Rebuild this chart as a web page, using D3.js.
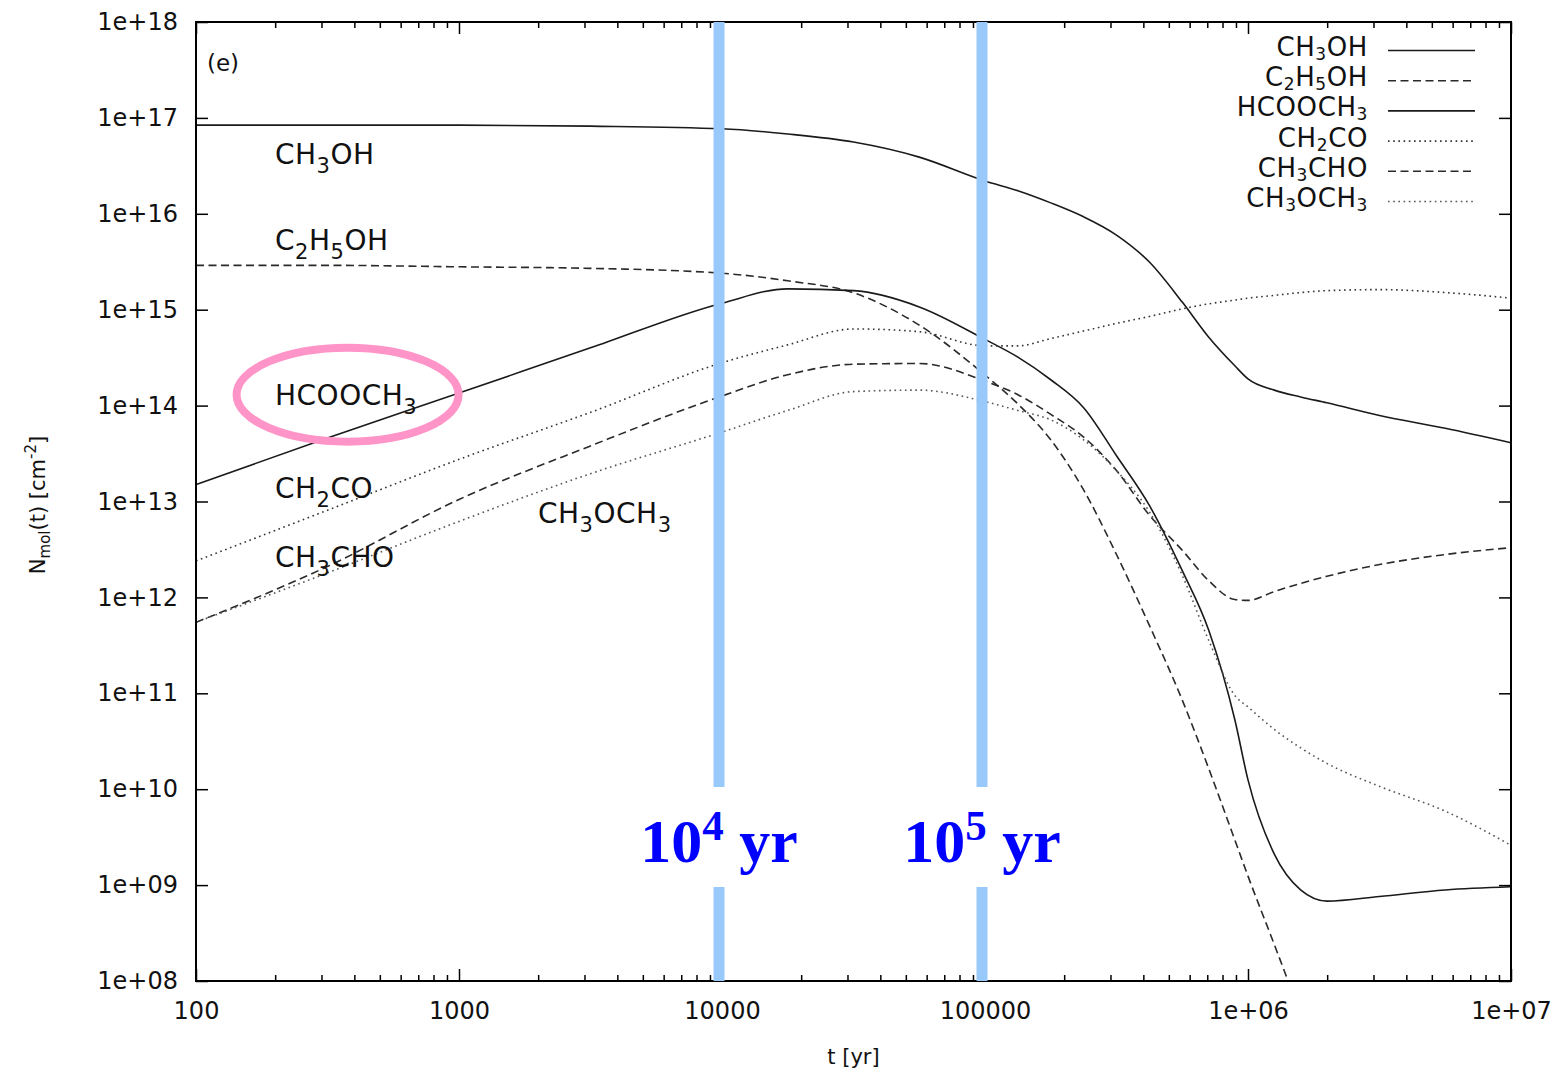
<!DOCTYPE html>
<html>
<head>
<meta charset="utf-8">
<script src="https://cdn.jsdelivr.net/npm/d3@7"></script>
<style>
  html, body { margin: 0; padding: 0; background: #fff; }
  svg { display: block; font-family: "DejaVu Sans", sans-serif; }
</style>
</head>
<body>
<svg id="chart" width="1563" height="1074"></svg>
<script>
// ---------------- data ----------------
const times = [100, 316, 1000, 3162, 10000, 17783, 31623, 56234, 100000, 133352, 177828, 237137,
  316228, 421697, 562341, 707946, 891251, 1000000, 1258925, 1584893, 1995262, 3162278, 5623413, 10000000];

const ch3oh   = [8.4e16, 8.4e16, 8.4e16, 8.2e16, 7.7e16, 6.8e16, 5.6e16, 3.9e16, 2.2e16, 1.74e16, 1.3e16, 9.3e15,
  6.0e15, 3.14e15, 1.2e15, 5.2e14, 2.6e14, 1.9e14, 1.45e14, 1.23e14, 1.07e14, 7.9e13, 5.8e13, 4.1e13];
const c2h5oh  = [2.9e15, 2.9e15, 2.8e15, 2.7e15, 2.4e15, 2.0e15, 1.5e15, 6.9e14, 2.08e14, 1.04e14, 4.4e13, 1.32e13,
  2.8e12, 5.1e11, 8.5e10, 1.66e10, 2.95e9, 1.24e9, 2.4e8, 4.5e7, null, null, null, null];
const hcooch3 = [1.5e13, 4.6e13, 1.35e14, 4.0e14, 1.17e15, 1.65e15, 1.58e15, 1.07e15, 4.9e14, 3.2e14, 1.86e14, 9.5e13,
  3.0e13, 9.1e12, 1.9e12, 4.6e11, 5.3e10, 1.25e10, 2.1e9, 8.9e8, 6.8e8, 7.6e8, 8.9e8, 9.6e8];
const ch2co   = [2.4e12, 8.1e12, 2.75e13, 8.5e13, 2.8e14, 4.3e14, 6.3e14, 5.9e14, 4.2e14, 4.2e14, 5.0e14, 6.0e14,
  7.2e14, 8.5e14, 1.02e15, 1.15e15, 1.26e15, 1.32e15, 1.41e15, 1.51e15, 1.58e15, 1.62e15, 1.51e15, 1.32e15];
const ch3cho  = [5.5e11, 2.1e12, 1.05e13, 3.8e13, 1.26e14, 2.1e14, 2.7e14, 2.75e14, 1.8e14, 1.3e14, 8.1e13, 4.7e13,
  2.1e13, 7.2e12, 3.1e12, 1.5e12, 9.5e11, 9.3e11, 1.15e12, 1.4e12, 1.66e12, 2.2e12, 2.8e12, 3.3e12];
const ch3och3 = [5.5e11, 1.8e12, 6.2e12, 1.95e13, 5.3e13, 8.9e13, 1.4e14, 1.45e14, 1.1e14, 8.9e13, 7.1e13, 4.4e13,
  2.1e13, 7.8e12, 1.7e12, 3.6e11, 9.5e10, 7.2e10, 4.2e10, 2.7e10, 1.86e10, 1.07e10, 5.9e9, 2.6e9];

const seriesNames = ["CH3OH", "C2H5OH", "HCOOCH3", "CH2CO", "CH3CHO", "CH3OCH3"];
const seriesValues = [ch3oh, c2h5oh, hcooch3, ch2co, ch3cho, ch3och3];

const xTickValues = [1e2, 1e3, 1e4, 1e5, 1e6, 1e7];
const xTickLabels = ["100", "1000", "10000", "100000", "1e+06", "1e+07"];
const yTickValues = [1e8, 1e9, 1e10, 1e11, 1e12, 1e13, 1e14, 1e15, 1e16, 1e17, 1e18];
const yTickLabels = ["1e+08", "1e+09", "1e+10", "1e+11", "1e+12", "1e+13", "1e+14", "1e+15", "1e+16", "1e+17", "1e+18"];

const markerTimes = [1e4, 1e5];
const markerExponents = ["4", "5"];

// ---------------- styles ----------------
const styles = {
  "CH3OH":   { dash: null,    color: "#1a1a1a" },
  "C2H5OH":  { dash: "8,4.5", color: "#2a2a2a" },
  "HCOOCH3": { dash: null,    color: "#1a1a1a" },
  "CH2CO":   { dash: "1.6,3.6", color: "#333" },
  "CH3CHO":  { dash: "8,4.5", color: "#2a2a2a" },
  "CH3OCH3": { dash: "1.6,3.6", color: "#555" }
};

// ---------------- layout ----------------
const L = 196, R = 1511, T = 22, B = 981;
const svg = d3.select("#chart");

const x = d3.scaleLog().domain([1e2, 1e7]).range([L, R]);
const y = d3.scaleLog().domain([1e8, 1e18]).range([B, T]);

svg.append("defs").append("clipPath").attr("id", "plotclip")
  .append("rect").attr("x", L).attr("y", T).attr("width", R - L).attr("height", B - T);

// formula text helper
function parseFormula(s) {
  const parts = [];
  const re = /([A-Za-z()]+)|(\d+)/g;
  let m;
  while ((m = re.exec(s)) !== null) {
    if (m[1]) parts.push([m[1], 0]); else parts.push([m[2], 1]);
  }
  return parts;
}
function writeFormula(textSel, name, subSize, subShift) {
  const parts = parseFormula(name);
  let shifted = 0;
  parts.forEach(([t, sub]) => {
    const ts = textSel.append("tspan").text(t);
    if (sub) {
      ts.attr("font-size", subSize).attr("dy", subShift - shifted);
      shifted = subShift;
    } else {
      ts.attr("dy", -shifted);
      shifted = 0;
    }
  });
}

// ---------------- data lines ----------------
const line = d3.line()
  .defined(d => d[1] != null)
  .x(d => x(d[0]))
  .y(d => y(d[1]))
  .curve(d3.curveMonotoneX);

const plot = svg.append("g").attr("clip-path", "url(#plotclip)");
seriesNames.forEach((name, i) => {
  const pts = times.map((t, j) => [t, seriesValues[i][j]]);
  plot.append("path")
    .attr("d", line(pts))
    .attr("fill", "none")
    .attr("stroke", styles[name].color)
    .attr("stroke-width", 1.6)
    .attr("stroke-dasharray", styles[name].dash);
});

// ---------------- axes ----------------
const minorX = x.ticks().filter(v => !xTickValues.includes(v));

function clean(g) { g.select(".domain").remove(); g.selectAll("line").attr("stroke", "#000").attr("stroke-width", 1.5); }

svg.append("g").attr("transform", `translate(0,${B})`)
  .call(d3.axisBottom(x).tickValues(minorX).tickFormat("").tickSize(-6).tickSizeOuter(0)).call(clean);
svg.append("g").attr("transform", `translate(0,${T})`)
  .call(d3.axisTop(x).tickValues(minorX).tickFormat("").tickSize(-6).tickSizeOuter(0)).call(clean);
svg.append("g").attr("transform", `translate(0,${B})`)
  .call(d3.axisBottom(x).tickValues(xTickValues).tickFormat((d, i) => xTickLabels[i]).tickSize(-12).tickPadding(21).tickSizeOuter(0))
  .call(clean)
  .call(g => g.selectAll("text").attr("font-size", 24).attr("font-family", "DejaVu Sans").attr("fill", "#111"));
svg.append("g").attr("transform", `translate(0,${T})`)
  .call(d3.axisTop(x).tickValues(xTickValues).tickFormat("").tickSize(-12).tickSizeOuter(0)).call(clean);
svg.append("g").attr("transform", `translate(${L},0)`)
  .call(d3.axisLeft(y).tickValues(yTickValues).tickFormat((d, i) => yTickLabels[i]).tickSize(-12).tickPadding(18).tickSizeOuter(0))
  .call(clean)
  .call(g => g.selectAll("text").attr("font-size", 24).attr("font-family", "DejaVu Sans").attr("fill", "#111"));
svg.append("g").attr("transform", `translate(${R},0)`)
  .call(d3.axisRight(y).tickValues(yTickValues).tickFormat("").tickSize(-12).tickSizeOuter(0)).call(clean);

svg.append("rect").attr("x", L).attr("y", T).attr("width", R - L).attr("height", B - T)
  .attr("fill", "none").attr("stroke", "#000").attr("stroke-width", 2);

// axis titles
svg.append("text").attr("x", (L + R) / 2).attr("y", 1064).attr("text-anchor", "middle")
  .attr("font-size", 21).attr("fill", "#111").text("t [yr]");
const yt = svg.append("text").attr("transform", "translate(45,505) rotate(-90)")
  .attr("text-anchor", "middle").attr("font-size", 21).attr("fill", "#111");
yt.append("tspan").text("N");
yt.append("tspan").text("mol").attr("font-size", 15).attr("dy", 5);
yt.append("tspan").text("(t) [cm").attr("dy", -5);
yt.append("tspan").text("-2").attr("font-size", 15).attr("dy", -9);
yt.append("tspan").text("]").attr("dy", 9);

// panel tag
svg.append("text").attr("x", 207).attr("y", 71).attr("font-size", 23).attr("fill", "#111").text("(e)");

// ---------------- legend ----------------
const legend = svg.append("g");
seriesNames.forEach((name, i) => {
  const by = 56 + 30.2 * i;
  const t = legend.append("text").attr("x", 1368).attr("y", by).attr("text-anchor", "end")
    .attr("font-size", 26).attr("letter-spacing", 0.6).attr("fill", "#111");
  writeFormula(t, name, 17, 4);
  legend.append("line").attr("x1", 1388).attr("x2", 1475).attr("y1", by - 5.5).attr("y2", by - 5.5)
    .attr("stroke", styles[name].color).attr("stroke-width", 1.6).attr("stroke-dasharray", styles[name].dash);
});

// ---------------- in-plot labels ----------------
const labelNames = ["CH3OH", "C2H5OH", "HCOOCH3", "CH2CO", "CH3CHO", "CH3OCH3"];
const labelX = [275, 275, 275, 275, 275, 538];
const labelY = [164, 250, 405, 498, 567, 523];
labelNames.forEach((name, i) => {
  const t = svg.append("text").attr("x", labelX[i]).attr("y", labelY[i]).attr("font-size", 28)
    .attr("letter-spacing", 0.5).attr("fill", "#111");
  writeFormula(t, name, 21, 9);
});

// ---------------- annotations ----------------
svg.append("ellipse").attr("cx", x(377)).attr("cy", y(1.3e14)).attr("rx", 111).attr("ry", 47)
  .attr("fill", "none").attr("stroke", "#ff94c8").attr("stroke-width", 8);

markerTimes.forEach((t, i) => {
  const mx = x(t) - 3;
  svg.append("line").attr("x1", mx).attr("x2", mx).attr("y1", T).attr("y2", 787)
    .attr("stroke", "#99c9fb").attr("stroke-width", 11);
  svg.append("line").attr("x1", mx).attr("x2", mx).attr("y1", 887).attr("y2", B)
    .attr("stroke", "#99c9fb").attr("stroke-width", 11);
  const tx = svg.append("text").attr("x", mx).attr("y", 862).attr("text-anchor", "middle")
    .attr("font-family", "Liberation Serif, serif").attr("font-weight", "bold")
    .attr("font-size", 62).attr("fill", "#0000ff");
  tx.append("tspan").text("10");
  tx.append("tspan").text(markerExponents[i]).attr("font-size", 43).attr("dy", -22);
  tx.append("tspan").text(" yr").attr("dy", 22);
});
</script>
</body>
</html>
